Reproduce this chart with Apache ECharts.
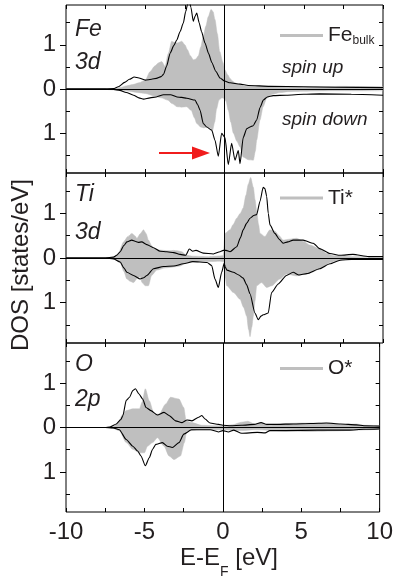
<!DOCTYPE html>
<html>
<head>
<meta charset="utf-8">
<title>DOS</title>
<script src="https://cdn.jsdelivr.net/npm/echarts@6/dist/echarts.min.js"></script>
<style>
html,body{margin:0;padding:0;background:#fff;}
#dosChart{width:396px;height:578px;}
</style>
</head>
<body>
<div id="dosChart"></div>
<script>
// ---- data: [E-EF (eV), DOS], spin down stored as magnitude ----
var feUpBulk=[[-10,0.01],[-8,0.01],[-7,0.01],[-6.6,0.03],[-6.2,0.07],[-5.8,0.1],[-5.4,0.14],[-5.0,0.2],[-4.7,0.39],[-4.4,0.52],[-4.17,0.59],[-3.96,0.62],[-3.75,0.51],[-3.55,0.8],[-3.33,1.08],[-3.15,1.05],[-3.0,1.04],[-2.85,1.06],[-2.7,1.08],[-2.5,1.0],[-2.34,0.89],[-2.15,0.75],[-1.97,0.66],[-1.8,0.68],[-1.65,0.75],[-1.5,0.95],[-1.34,1.19],[-1.18,1.42],[-1.02,1.64],[-0.85,1.8],[-0.72,1.75],[-0.6,1.57],[-0.45,1.25],[-0.3,0.85],[-0.1,0.6],[0.03,0.43],[0.2,0.32],[0.35,0.24],[0.5,0.18],[0.66,0.14],[0.9,0.1],[1.2,0.07],[1.6,0.06],[2.2,0.07],[3,0.05],[4,0.05],[5,0.04],[6,0.05],[7.5,0.06],[8.5,0.05],[10,0.05]];
var feDnBulk=[[-10,0],[-7.5,0.01],[-7,0.02],[-6.5,0.03],[-6,0.05],[-5.5,0.08],[-5,0.1],[-4.5,0.15],[-4,0.2],[-3.6,0.25],[-3.3,0.33],[-3.0,0.4],[-2.7,0.41],[-2.4,0.4],[-2.1,0.48],[-1.9,0.65],[-1.75,0.78],[-1.5,0.86],[-1.3,0.88],[-1.1,0.86],[-0.9,0.88],[-0.75,0.93],[-0.62,0.75],[-0.5,0.45],[-0.35,0.25],[-0.15,0.2],[0,0.22],[0.1,0.28],[0.24,0.48],[0.4,0.75],[0.56,1.0],[0.78,1.18],[0.98,1.31],[1.18,1.54],[1.5,1.6],[1.82,1.61],[1.95,1.4],[2.03,1.16],[2.24,0.7],[2.44,0.4],[2.66,0.21],[3.0,0.12],[3.5,0.08],[4,0.06],[5,0.05],[7,0.04],[10,0.04]];
var feUp=[[-10,0],[-7.5,0],[-7,0.01],[-6.7,0.05],[-6.3,0.15],[-6.0,0.22],[-5.7,0.27],[-5.4,0.25],[-5.0,0.2],[-4.6,0.22],[-4.3,0.24],[-4.0,0.28],[-3.85,0.33],[-3.65,0.52],[-3.43,0.81],[-3.2,0.98],[-3.01,1.11],[-2.8,1.3],[-2.6,1.49],[-2.45,1.75],[-2.34,1.9],[-2.25,2.05],[-2.12,1.85],[-1.97,1.53],[-1.85,1.65],[-1.75,1.72],[-1.6,1.5],[-1.45,1.3],[-1.23,1.04],[-1.0,0.8],[-0.8,0.6],[-0.55,0.4],[-0.28,0.25],[0,0.18],[0.35,0.14],[0.98,0.11],[1.5,0.08],[2.87,0.06],[5,0.05],[7,0.04],[10,0.03]];
var feDn=[[-10,0],[-7.5,0],[-7,0.01],[-6.6,0.03],[-6.2,0.08],[-5.74,0.14],[-5.4,0.2],[-5.1,0.23],[-4.7,0.2],[-4.3,0.18],[-3.85,0.13],[-3.4,0.13],[-3.0,0.18],[-2.7,0.19],[-2.38,0.21],[-1.86,0.25],[-1.7,0.35],[-1.54,0.48],[-1.34,0.78],[-1.12,0.86],[-0.81,0.93],[-0.6,1.16],[-0.39,1.52],[-0.18,1.0],[0.03,1.1],[0.24,1.71],[0.45,1.23],[0.66,1.61],[0.87,1.39],[0.98,1.69],[1.18,1.1],[1.4,0.9],[1.61,0.86],[1.81,0.83],[2.03,0.7],[2.24,0.42],[2.45,0.25],[2.7,0.18],[3.07,0.15],[3.9,0.14],[5,0.12],[6,0.11],[8,0.12],[10,0.14]];

var tiUpBulk=[[-10,0],[-7.5,0],[-7,0.02],[-6.7,0.1],[-6.37,0.36],[-6.1,0.48],[-5.85,0.55],[-5.65,0.5],[-5.53,0.44],[-5.3,0.55],[-5.11,0.63],[-4.95,0.55],[-4.8,0.4],[-4.6,0.28],[-4.48,0.21],[-4.1,0.18],[-3.85,0.17],[-3.5,0.16],[-3.22,0.17],[-2.95,0.16],[-2.7,0.14],[-2.4,0.06],[-2,0.04],[-1,0.03],[-0.08,0.05],[0.03,0.55],[0.35,0.63],[0.55,0.75],[0.77,0.89],[1.0,1.0],[1.18,1.12],[1.35,1.4],[1.5,1.65],[1.65,1.8],[1.82,1.58],[1.93,1.3],[2.03,1.05],[2.15,0.75],[2.24,0.55],[2.55,0.48],[2.87,0.63],[3.18,0.6],[3.45,0.5],[3.7,0.4],[4.1,0.42],[4.54,0.44],[5.0,0.37],[5.38,0.29],[6.0,0.21],[6.44,0.1],[6.9,0.05],[8,0.03],[10,0.03]];
var tiDnBulk=[[-10,0],[-7.5,0],[-7,0.02],[-6.58,0.1],[-6.35,0.3],[-6.16,0.47],[-5.95,0.52],[-5.74,0.55],[-5.5,0.45],[-5.32,0.42],[-5.2,0.55],[-5.0,0.62],[-4.8,0.62],[-4.6,0.39],[-4.27,0.27],[-3.7,0.22],[-3.2,0.2],[-2.8,0.18],[-2.4,0.1],[-2,0.08],[-1,0.08],[-0.3,0.07],[-0.05,0.08],[0.05,0.45],[0.14,0.62],[0.56,0.77],[0.98,0.92],[1.2,1.1],[1.4,1.3],[1.52,1.6],[1.61,1.76],[1.72,1.55],[1.82,1.3],[1.93,0.95],[2.03,0.62],[2.34,0.55],[2.66,0.66],[2.98,0.62],[3.5,0.47],[3.91,0.36],[4.54,0.4],[5.38,0.33],[6.2,0.22],[6.65,0.1],[7.2,0.05],[8,0.03],[10,0.03]];
var tiUp=[[-10,0],[-7.5,0],[-7,0.02],[-6.8,0.06],[-6.58,0.14],[-6.35,0.28],[-6.16,0.36],[-5.85,0.4],[-5.6,0.37],[-5.43,0.35],[-5.22,0.36],[-4.9,0.3],[-4.48,0.23],[-4.06,0.15],[-3.64,0.14],[-3.2,0.12],[-2.8,0.08],[-2.45,0.06],[-2.22,0.2],[-2.0,0.15],[-1.8,0.17],[-1.34,0.11],[-0.7,0.09],[-0.28,0.14],[-0.08,0.17],[0.1,0.17],[0.35,0.14],[0.77,0.25],[1.0,0.45],[1.18,0.63],[1.4,0.78],[1.61,0.89],[1.85,0.95],[2.03,0.97],[2.24,1.27],[2.44,1.58],[2.55,1.55],[2.66,1.38],[2.76,1.0],[2.87,0.74],[3.18,0.55],[3.45,0.42],[3.7,0.33],[4.0,0.36],[4.33,0.4],[4.96,0.4],[5.6,0.33],[6.0,0.21],[6.65,0.1],[7.3,0.06],[8.1,0.08],[9.1,0.03],[10,0.03]];
var tiDn=[[-10,0],[-7.5,0],[-7,0.02],[-6.58,0.09],[-6.35,0.22],[-6.16,0.32],[-5.74,0.39],[-5.32,0.47],[-5.1,0.44],[-4.9,0.39],[-4.48,0.24],[-3.85,0.19],[-3.2,0.18],[-2.6,0.13],[-2.0,0.08],[-1.1,0.1],[-0.81,0.17],[-0.6,0.47],[-0.39,0.66],[-0.18,0.32],[-0.02,0.12],[0.05,0.2],[0.15,0.27],[0.56,0.32],[0.9,0.38],[1.18,0.45],[1.4,0.6],[1.61,0.8],[1.92,1.23],[2.13,1.38],[2.3,1.3],[2.44,1.27],[2.76,1.23],[2.97,0.77],[3.39,0.58],[3.91,0.39],[4.33,0.32],[4.7,0.38],[5.2,0.35],[6.0,0.24],[6.65,0.13],[7.3,0.05],[8,0.03],[10,0.03]];

var oUpBulk=[[-10,0],[-7.5,0],[-7,0.02],[-6.7,0.1],[-6.37,0.3],[-6.16,0.38],[-5.74,0.42],[-5.32,0.42],[-5.15,0.57],[-4.94,0.87],[-4.69,0.6],[-4.38,0.3],[-4.06,0.3],[-3.64,0.53],[-3.33,0.68],[-2.8,0.64],[-2.49,0.45],[-2.34,0.15],[-2.0,0.11],[-1.34,0.05],[-0.5,0.04],[0,0.04],[0.6,0.06],[1.2,0.12],[1.6,0.14],[2.0,0.08],[2.44,0.09],[3,0.05],[4,0.09],[5,0.1],[6,0.1],[7,0.1],[7.5,0.06],[8.5,0.08],[9,0.05],[10,0.04]];
var oDnBulk=[[-10,0],[-7.5,0],[-7,0.02],[-6.6,0.07],[-6.16,0.34],[-5.74,0.49],[-5.32,0.57],[-5.0,0.57],[-4.8,0.42],[-4.48,0.34],[-4.17,0.23],[-3.75,0.42],[-3.43,0.64],[-3.11,0.72],[-2.7,0.64],[-2.45,0.34],[-2.3,0.08],[-1.5,0.05],[0,0.05],[0.6,0.06],[1.2,0.07],[2,0.05],[3,0.06],[4,0.08],[5.5,0.09],[7,0.08],[8.5,0.06],[10,0.04]];
var oUp=[[-10,0],[-7.5,0],[-7.2,0.01],[-6.79,0.08],[-6.5,0.18],[-6.37,0.27],[-6.16,0.61],[-5.95,0.68],[-5.74,0.83],[-5.57,0.87],[-5.36,0.76],[-5.11,0.64],[-4.9,0.45],[-4.59,0.38],[-4.17,0.28],[-3.75,0.34],[-3.43,0.27],[-3.01,0.15],[-2.6,0.11],[-2.28,0.17],[-1.97,0.15],[-1.54,0.23],[-1.34,0.27],[-1.13,0.19],[-0.81,0.1],[-0.28,0.07],[0,0.05],[0.5,0.04],[1.2,0.05],[2.0,0.07],[2.44,0.11],[2.8,0.07],[3.5,0.07],[4.5,0.08],[5.6,0.09],[6.6,0.1],[7.5,0.08],[8.5,0.06],[9,0.04],[10,0.03]];
var oDn=[[-10,0],[-7.5,0],[-7,0.01],[-6.6,0.05],[-6.16,0.27],[-5.74,0.42],[-5.43,0.53],[-5.22,0.64],[-4.94,0.86],[-4.69,0.68],[-4.48,0.49],[-4.27,0.38],[-3.85,0.34],[-3.54,0.42],[-3.22,0.45],[-2.8,0.34],[-2.49,0.15],[-2.0,0.05],[-0.8,0.05],[-0.28,0.1],[0,0.07],[0.35,0.1],[0.7,0.06],[1.2,0.13],[2.2,0.11],[2.7,0.12],[3.0,0.07],[4,0.07],[6,0.06],[8,0.06],[9,0.04],[10,0.03]];

// ---- labels / ticks ----
var elementNames=['Fe','Ti','O'];
var orbitalNames=['3d','3d','2p'];
var legendNames=['Fe bulk','Ti*','O*'];
var xTickValues=[-10,-5,0,5,10];
var xMinorValues=[-10,-7.5,-5,-2.5,0,2.5,5,7.5,10];
var yLabelValues=[-1,0,1];
var yInnerValues=[-1.5,-0.5,0.5,1.5];
var yRightValues=[-1.5,-1,-0.5,0,0.5,1,1.5];

var panelData=[
	{upBulk:feUpBulk,dnBulk:feDnBulk,up:feUp,dn:feDn},
	{upBulk:tiUpBulk,dnBulk:tiDnBulk,up:tiUp,dn:tiDn},
	{upBulk:oUpBulk,dnBulk:oDnBulk,up:oUp,dn:oDn}
];

var FONT='"Liberation Sans", Arial, sans-serif';
var TXT='#231f20';
var GRAY='#bfbfbf';
var gridTops=[5,173,343];
var gridHeights=[168,170,169];

/**
 * negate spin-down magnitudes
 */
function negate(arr)
{
	return arr.map(function(p){return [p[0],-p[1]];});
}

/**
 * build the option for the three stacked panels
 */
function buildOption()
{
	var grids=[],xAxes=[],yAxes=[],series=[],legends=[],graphics=[];
	for(var i=0;i<3;i++)
	{
		var d=panelData[i];
		grids.push({left:66,right:13,top:gridTops[i],height:gridHeights[i],show:true,borderColor:'#000',borderWidth:1});
		// bottom and top x axes
		xAxes.push({
			type:'value',gridIndex:i,min:-10,max:10,position:'bottom',
			axisLine:{show:false,onZero:false},
			axisTick:{show:true,inside:true,length:4,customValues:xMinorValues,lineStyle:{color:'#000'}},
			axisLabel:(i==2 ? {show:true,customValues:xTickValues,fontSize:24,fontFamily:FONT,color:TXT,margin:8} : {show:false}),
			splitLine:{show:false}
		});
		xAxes.push({
			type:'value',gridIndex:i,min:-10,max:10,position:'top',
			axisLine:{show:false,onZero:false},
			axisTick:{show:true,inside:true,length:4,customValues:xMinorValues,lineStyle:{color:'#000'}},
			axisLabel:{show:false},splitLine:{show:false}
		});
		// left (labels), left inner ticks, right ticks
		yAxes.push({
			type:'value',gridIndex:i,min:-1.9,max:1.9,position:'left',
			axisLine:{show:false,onZero:false},
			axisTick:{show:true,inside:false,length:6,customValues:yLabelValues,lineStyle:{color:'#000'}},
			axisLabel:{show:true,customValues:yLabelValues,fontSize:24,fontFamily:FONT,color:TXT,margin:10,
				formatter:function(v){return String(Math.abs(v));}},
			splitLine:{show:false}
		});
		yAxes.push({
			type:'value',gridIndex:i,min:-1.9,max:1.9,position:'left',
			axisLine:{show:false,onZero:false},
			axisTick:{show:true,inside:true,length:4,customValues:yInnerValues,lineStyle:{color:'#000'}},
			axisLabel:{show:false},splitLine:{show:false}
		});
		yAxes.push({
			type:'value',gridIndex:i,min:-1.9,max:1.9,position:'right',
			axisLine:{show:false,onZero:false},
			axisTick:{show:true,inside:true,length:4,customValues:yRightValues,lineStyle:{color:'#000'}},
			axisLabel:{show:false},splitLine:{show:false}
		});

		var areaBase={type:'line',xAxisIndex:2*i,yAxisIndex:3*i,showSymbol:false,symbol:'none',smooth:0.25,smoothMonotone:'x',
			z:2,silent:true,lineStyle:{color:GRAY,width:0.5},itemStyle:{color:GRAY},areaStyle:{color:GRAY,opacity:1}};
		series.push(Object.assign({},areaBase,{name:legendNames[i],data:d.upBulk}));
		series.push(Object.assign({},areaBase,{name:legendNames[i],data:negate(d.dnBulk)}));

		var lineBase={type:'line',xAxisIndex:2*i,yAxisIndex:3*i,showSymbol:false,symbol:'none',smooth:0.2,smoothMonotone:'x',
			z:3,silent:true,lineStyle:{color:'#000',width:1.1},itemStyle:{color:'#000'}};
		series.push(Object.assign({},lineBase,{name:elementNames[i]+' up',data:d.up,
			markLine:{silent:true,symbol:['none','none'],label:{show:false},animation:false,
				lineStyle:{color:'#000',width:1,type:'solid'},
				data:[{yAxis:0},{xAxis:0}]}}));
		series.push(Object.assign({},lineBase,{name:elementNames[i]+' down',data:negate(d.dn)}));

		// legend for the reference (grey) curve
		legends.push({
			data:[legendNames[i]],left:280,top:[25,187.5,358][i],padding:0,
			icon:'rect',itemWidth:43,itemHeight:3,
			itemStyle:{color:GRAY,borderWidth:0},
			selectedMode:false,
			formatter:(i==0 ? '{n|Fe}{s|bulk}' : '{n|{name}}'),
			textStyle:{fontFamily:FONT,color:TXT,fontSize:21,
				rich:{n:{fontFamily:FONT,color:TXT,fontSize:21,lineHeight:22},
					s:{fontFamily:FONT,color:TXT,fontSize:12,lineHeight:12,verticalAlign:'bottom',padding:[6,0,0,0]}}}
		});

		// element / orbital tags
		graphics.push({type:'text',x:75,y:gridTops[i]+[24.5,22,22][i],silent:true,
			style:{text:elementNames[i],font:'italic 23px '+FONT,fill:TXT,verticalAlign:'middle'}});
		graphics.push({type:'text',x:75,y:gridTops[i]+[58,60,57][i],silent:true,
			style:{text:orbitalNames[i],font:'italic 23px '+FONT,fill:TXT,verticalAlign:'middle'}});
	}

	// spin labels in the Fe panel
	graphics.push({type:'text',x:282,y:68,silent:true,style:{text:'spin up',font:'italic 19px '+FONT,fill:TXT,verticalAlign:'middle'}});
	graphics.push({type:'text',x:282,y:120,silent:true,style:{text:'spin down',font:'italic 19px '+FONT,fill:TXT,verticalAlign:'middle'}});
	// red arrow
	graphics.push({type:'line',silent:true,shape:{x1:159,y1:153,x2:194,y2:153},style:{stroke:'#f01c1c',lineWidth:2.2}});
	graphics.push({type:'polygon',silent:true,shape:{points:[[192,146.5],[210,153],[192,159.5]]},style:{fill:'#f01c1c'}});
	// axis titles
	graphics.push({type:'text',x:21,y:265,rotation:Math.PI/2,silent:true,
		style:{text:'DOS [states/eV]',font:'24px '+FONT,fill:TXT,align:'center',verticalAlign:'middle'}});
	graphics.push({type:'text',x:180,y:558,silent:true,style:{text:'E-E',font:'24px '+FONT,fill:TXT,verticalAlign:'middle'}});
	graphics.push({type:'text',x:220,y:572,silent:true,style:{text:'F',font:'14px '+FONT,fill:TXT,verticalAlign:'middle'}});
	graphics.push({type:'text',x:228.6,y:558,silent:true,style:{text:' [eV]',font:'24px '+FONT,fill:TXT,verticalAlign:'middle'}});

	return {
		animation:false,
		backgroundColor:'#fff',
		grid:grids,xAxis:xAxes,yAxis:yAxes,series:series,legend:legends,graphic:graphics
	};
}

var myChart=echarts.init(document.getElementById('dosChart'),null,{renderer:'canvas'});
myChart.setOption(buildOption());
</script>
</body>
</html>
